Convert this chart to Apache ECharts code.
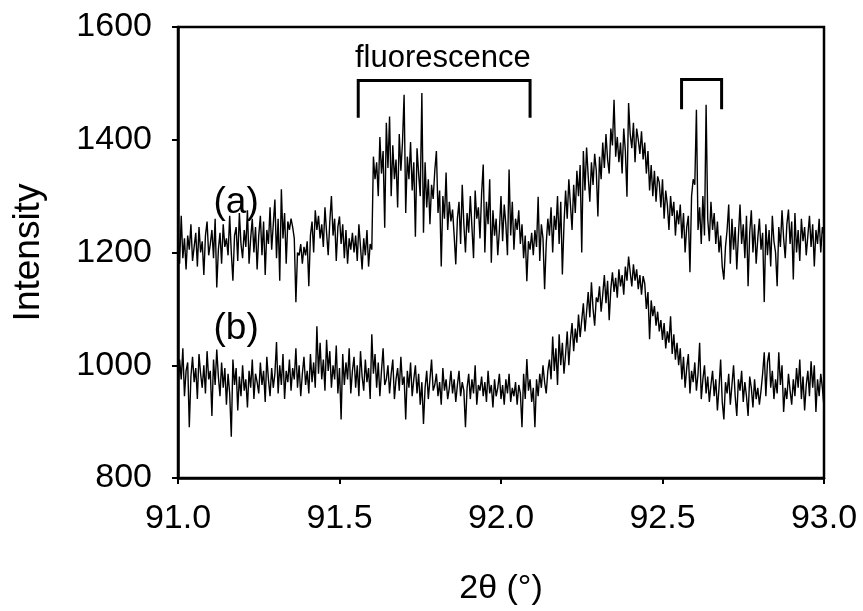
<!DOCTYPE html>
<html>
<head>
<meta charset="utf-8">
<script src="https://cdn.jsdelivr.net/npm/echarts@6/dist/echarts.min.js"></script>
<style>
  html, body { margin: 0; padding: 0; background: #fff; }
  #chart { width: 863px; height: 611px; }
</style>
</head>
<body>
<div id="chart"></div>
<script>
// sampling grid of the scan (2theta, degrees)
const twoThetaStart = 91.0;
const twoThetaStep = 0.005;

// trace (a): intensity per step, 91.000 .. 93.000
const intensityA = [
  1240, 1180, 1265, 1190, 1225, 1170, 1230, 1205, 1250, 1185,
  1210, 1235, 1175, 1245, 1200, 1220, 1160, 1230, 1255, 1195,
  1215, 1240, 1190, 1260, 1138, 1205, 1235, 1180, 1250, 1210,
  1225, 1195, 1265, 1200, 1150, 1230, 1245, 1185, 1270, 1215,
  1190, 1240, 1210, 1275, 1180, 1225, 1260, 1200, 1245, 1170,
  1230, 1265, 1195, 1255, 1160, 1240, 1215, 1280, 1205, 1250,
  1294, 1190, 1260, 1150, 1312, 1225, 1270, 1180, 1255, 1240,
  1260, 1245, 1225, 1112, 1200, 1195, 1215, 1180, 1210, 1195,
  1220, 1140, 1230, 1255, 1200, 1275, 1240, 1265, 1225, 1250,
  1210, 1280, 1235, 1195, 1255, 1300, 1230, 1260, 1185, 1245,
  1264, 1215, 1250, 1190, 1240, 1180, 1225, 1205, 1235, 1200,
  1230, 1185, 1250, 1210, 1170, 1225, 1195, 1240, 1175, 1215,
  1205, 1370, 1330, 1360, 1300, 1405, 1340, 1380, 1244, 1430,
  1350, 1441, 1300, 1390, 1330, 1365, 1280, 1410, 1345, 1395,
  1480, 1270, 1370, 1330, 1396, 1310, 1360, 1228, 1385, 1340,
  1300, 1483, 1235, 1360, 1280, 1330, 1250, 1320, 1295, 1345,
  1380, 1270, 1310, 1175, 1300, 1260, 1342, 1240, 1290, 1255,
  1276, 1230, 1179, 1260, 1290, 1215, 1320, 1250, 1200, 1270,
  1235, 1300, 1245, 1190, 1310, 1260, 1280, 1225, 1305, 1356,
  1200, 1290, 1250, 1330, 1182, 1275, 1230, 1260, 1195, 1240,
  1300, 1220, 1285, 1250, 1195, 1347, 1230, 1290, 1205, 1260,
  1240, 1275, 1215, 1250, 1190, 1230, 1149, 1220, 1205, 1235,
  1195, 1240, 1210, 1299, 1185, 1250, 1225, 1135, 1215, 1260,
  1230, 1280, 1200, 1265, 1240, 1300, 1215, 1290, 1161, 1250,
  1310, 1260, 1330, 1285, 1240, 1320, 1270, 1345, 1300, 1355,
  1200, 1380, 1310, 1386, 1335, 1290, 1360, 1320, 1375, 1345,
  1264, 1370, 1330, 1395, 1350, 1410, 1365, 1340, 1420, 1390,
  1471, 1370, 1405, 1360, 1395, 1340, 1420, 1380, 1299, 1465,
  1410, 1385, 1430, 1360, 1420, 1400, 1375, 1415, 1365, 1395,
  1340, 1380, 1310, 1355, 1300, 1345, 1290, 1335, 1324, 1280,
  1330, 1260, 1310, 1285, 1240, 1300, 1265, 1290, 1230, 1275,
  1250, 1285, 1225, 1270, 1200, 1245, 1265, 1165, 1300, 1330,
  1320, 1453, 1240, 1280, 1215, 1300, 1230, 1462, 1260, 1220,
  1290, 1240, 1270, 1215, 1255, 1200, 1230, 1175, 1152, 1210,
  1240, 1285, 1180, 1260, 1205, 1245, 1170, 1230, 1285, 1215,
  1250, 1190, 1265, 1140, 1235, 1275, 1200, 1250, 1180, 1225,
  1260, 1205, 1235, 1112, 1250, 1195, 1240, 1175, 1265, 1220,
  1200, 1140, 1245, 1210, 1275, 1225, 1190, 1250, 1276, 1215,
  1255, 1152, 1270, 1200, 1240, 1185, 1260, 1220, 1245, 1195,
  1230, 1265, 1210, 1250, 1175, 1240, 1215, 1260, 1200, 1245,
  1230
];

// trace (b): intensity per step, 91.000 .. 93.000
const intensityB = [
  960, 1010, 975, 1030, 945, 990, 1005, 890, 980, 1015,
  970, 995, 940, 1020, 985, 960, 1000, 950, 1025, 975,
  990, 910, 1010, 965, 1028, 980, 945, 1005, 960, 995,
  930, 985, 950, 873, 1010, 965, 995, 920, 980, 945,
  1000, 955, 975, 925, 990, 960, 1010, 940, 985, 970,
  950, 1005, 965, 990, 935, 1015, 975, 945, 995, 960,
  985, 1041, 950, 1000, 965, 1020, 940, 990, 970, 1010,
  955, 995, 975, 1030, 960, 1000, 945, 985, 1015, 965,
  990, 950, 1020, 970, 1005, 960, 1069, 985, 1040, 975,
  1010, 955, 1045, 990, 1025, 960, 1000, 975, 1035, 950,
  995, 904, 1020, 965, 1005, 975, 1030, 950, 990, 1015,
  960, 1000, 945, 1025, 980, 955, 1010, 970, 995, 940,
  1055, 985, 1020, 960, 1005, 945, 990, 1030, 965, 975,
  1000, 950, 985, 1010, 940, 975, 995, 955, 1015, 965,
  980, 904, 990, 960, 1005, 945, 975, 1000, 950, 985,
  930, 970, 896, 960, 990, 940, 975, 1010, 955, 965,
  985, 945, 970, 930, 995, 955, 975, 940, 960, 990,
  950, 975, 935, 965, 990, 945, 970, 955, 890, 960,
  985, 940, 975, 950, 1000, 930, 965, 955, 980, 945,
  970, 935, 990, 950, 965, 925, 975, 945, 960, 985,
  940, 965, 930, 975, 950, 985, 935, 960, 945, 970,
  930, 965, 950, 890, 985, 940, 1011, 955, 975, 935,
  960, 890, 975, 945, 985, 960, 1000, 970, 950, 990,
  1010, 975, 1051, 990, 1030, 965, 1055, 1000, 1040, 985,
  1020, 1060, 1000, 1045, 1075, 1025, 1065, 1040, 1090, 1050,
  1080, 1110, 1060, 1095, 1130, 1085, 1147, 1100, 1070, 1120,
  1112, 1140, 1095, 1125, 1160, 1110, 1150, 1080, 1135, 1165,
  1130, 1155, 1120, 1170, 1140, 1160, 1125, 1175, 1150, 1193,
  1165, 1140, 1179, 1150, 1170, 1135, 1160, 1125, 1158, 1145,
  1100, 1130, 1046, 1115, 1087, 1105, 1070, 1095, 1060, 1080,
  1045, 1075, 1030, 1060, 1040, 1087, 1020, 1055, 1010, 1040,
  1000, 1030, 975, 1015, 960, 995, 1020, 950, 990, 970,
  1005, 955, 985, 1040, 940, 975, 1000, 950, 980, 935,
  965, 990, 945, 975, 920, 960, 1010, 935, 904, 970,
  950, 985, 930, 965, 1000, 945, 910, 975, 955, 990,
  935, 970, 945, 910, 980, 960, 925, 975, 940, 960,
  930, 955, 985, 1023, 945, 1005, 1023, 960, 990, 940,
  975, 950, 1023, 965, 1000, 917, 960, 940, 985, 955,
  930, 975, 945, 995, 960, 1010, 940, 980, 920, 965,
  990, 945, 1007, 960, 1000, 917, 975, 945, 985, 960,
  925
];

// bracket annotations [2theta, intensity]
const fluorescenceBracket = [[91.558, 1439], [91.558, 1505], [92.09, 1505], [92.09, 1439]];
const spikeBracket = [[92.559, 1454], [92.559, 1507], [92.683, 1507], [92.683, 1454]];

// text annotations
const annotationLabels = [
  { name: 'fluorescence', value: [91.82, 1545], size: 31 },
  { name: '(a)', value: [91.18, 1288], size: 37 },
  { name: '(b)', value: [91.18, 1064], size: 37 }
];

const xTicks = { min: 91.0, max: 93.0, interval: 0.5 };
const yTicks = { min: 800, max: 1600, interval: 200 };

function toPairs(values) {
  return values.map((v, i) => [+(twoThetaStart + i * twoThetaStep).toFixed(3), v]);
}

const font = '"Liberation Sans", Arial, sans-serif';
const chart = echarts.init(document.getElementById('chart'));

chart.setOption({
  animation: false,
  backgroundColor: '#fff',
  grid: {
    left: 178,
    right: 39,
    top: 27,
    bottom: 132,
    show: true,
    borderColor: '#000',
    borderWidth: 2.5
  },
  xAxis: {
    type: 'value',
    min: xTicks.min,
    max: xTicks.max,
    interval: xTicks.interval,
    name: '2θ (°)',
    nameLocation: 'middle',
    nameGap: 94,
    nameTextStyle: { color: '#000', fontSize: 34, fontFamily: font },
    axisLine: { lineStyle: { color: '#000', width: 2.5 } },
    axisTick: { show: true, inside: false, length: 6, lineStyle: { color: '#000', width: 2 } },
    axisLabel: {
      color: '#000',
      fontSize: 34,
      fontFamily: font,
      margin: 24,
      formatter: v => v.toFixed(1)
    },
    splitLine: { show: false }
  },
  yAxis: {
    type: 'value',
    min: yTicks.min,
    max: yTicks.max,
    interval: yTicks.interval,
    name: 'Intensity',
    nameLocation: 'middle',
    nameGap: 131,
    nameTextStyle: { color: '#000', fontSize: 37, fontFamily: font },
    axisLine: { lineStyle: { color: '#000', width: 2.5 } },
    axisTick: { show: true, inside: false, length: 6, lineStyle: { color: '#000', width: 2 } },
    axisLabel: {
      color: '#000',
      fontSize: 34,
      fontFamily: font,
      margin: 26,
      formatter: v => String(v)
    },
    splitLine: { show: false }
  },
  series: [
    {
      name: '(a)',
      type: 'line',
      data: toPairs(intensityA),
      showSymbol: false,
      lineStyle: { color: '#000', width: 1.4 }
    },
    {
      name: '(b)',
      type: 'line',
      data: toPairs(intensityB),
      showSymbol: false,
      lineStyle: { color: '#000', width: 1.4 }
    },
    {
      type: 'line',
      data: fluorescenceBracket,
      showSymbol: false,
      lineStyle: { color: '#000', width: 3, join: 'miter', cap: 'butt' }
    },
    {
      type: 'line',
      data: spikeBracket,
      showSymbol: false,
      lineStyle: { color: '#000', width: 3, join: 'miter', cap: 'butt' }
    },
    {
      type: 'scatter',
      data: annotationLabels.map(d => ({
        name: d.name,
        value: d.value,
        label: { fontSize: d.size }
      })),
      symbolSize: 0,
      itemStyle: { opacity: 1 },
      label: {
        show: true,
        position: 'inside',
        formatter: p => p.name,
        color: '#000',
        opacity: 1,
        fontFamily: font
      }
    }
  ]
});
</script>
</body>
</html>
